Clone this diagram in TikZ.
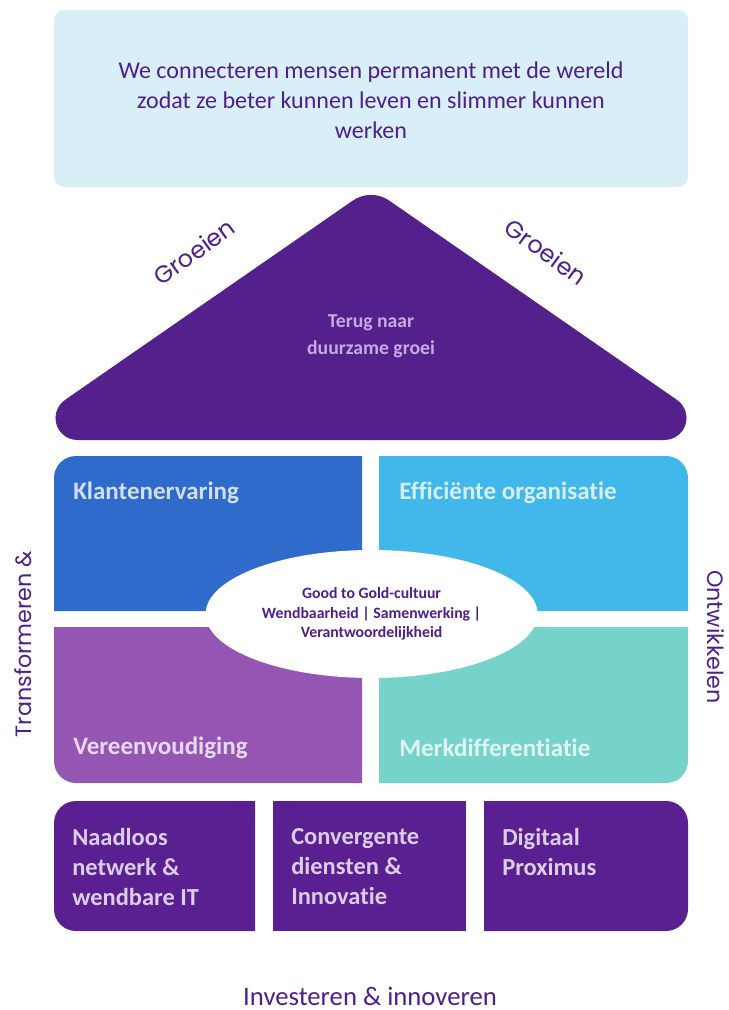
\documentclass[tikz,border=0pt]{standalone}
\usepackage{fontspec}
\setmainfont{Carlito}[Ligatures=NoCommon]
\newfontfamily\zijfont{Poppins}
\usetikzlibrary{shapes.geometric}
\definecolor{missiebox}{HTML}{D9EFF8}
\definecolor{paars}{HTML}{4E1F8A}
\definecolor{dak}{HTML}{54218C}
\definecolor{dakletter}{HTML}{C7A9E4}
\definecolor{klant}{HTML}{2F6BCB}
\definecolor{effic}{HTML}{42B7EA}
\definecolor{vereen}{HTML}{9455B3}
\definecolor{merk}{HTML}{76D3C9}
\definecolor{pijler}{HTML}{5A1F90}

\begin{document}
\begin{tikzpicture}[
  every node/.style={inner sep=0pt},
  missie/.style={font=\fontsize{17.1}{21.3}\selectfont, text=paars, align=center},
  groei/.style={font=\zijfont\fontsize{17}{20}\selectfont, text=paars},
  dakt/.style={font=\bfseries\fontsize{14}{19.2}\selectfont, text=dakletter, align=center},
  vlak/.style={font=\bfseries\fontsize{17.8}{20}\selectfont, text=white, text opacity=0.78, anchor=west},
  kern/.style={ellipse, fill=white, minimum width=8.3cm, minimum height=3.2cm,
    font=\bfseries\fontsize{11.2}{14}\selectfont, text=paars, align=center},
  pijlert/.style={font=\bfseries\fontsize{17.4}{21.3}\selectfont, text=white, text opacity=0.78,
    align=left, anchor=west},
  zij/.style={font=\zijfont\fontsize{15.8}{18}\selectfont, text=paars},
  basis/.style={font=\fontsize{19}{22}\selectfont, text=paars}
]
\useasboundingbox (0,0) rectangle (18.2,-25.25);

% missie bovenaan
\fill[missiebox, rounded corners=0.25cm] (1.35,-0.25) rectangle (17.2,-4.675);
\node[missie] (missie) at (9.275,-2.5) {We connecteren mensen permanent met de wereld\\zodat ze beter kunnen leven en slimmer kunnen\\werken};

% dak: driehoek met ronde hoeken
\fill[dak] (1.937,-11.0) arc[start angle=270, end angle=124.7, radius=0.55]
  -- (8.82,-5.015) arc[start angle=124.7, end angle=55.3, radius=0.8]
  -- (16.926,-9.998) arc[start angle=55.3, end angle=-90, radius=0.55] -- cycle;
\node[groei, rotate=36] (groeiL) at (4.85,-6.3) {Groeien};
\node[groei, rotate=-36] (groeiR) at (13.65,-6.3) {Groeien};
\node[dakt] (terug) at (9.275,-8.4) {Terug naar\\duurzame groei};

% vier kwadranten, alleen de buitenhoeken rond
\fill[klant] (9.05,-15.275) -- (1.35,-15.275) -- (1.35,-11.95)
  arc[start angle=180, end angle=90, radius=0.55] -- (9.05,-11.4) -- cycle;
\fill[effic] (9.475,-15.275) -- (9.475,-11.4) -- (16.65,-11.4)
  arc[start angle=90, end angle=0, radius=0.55] -- (17.2,-15.275) -- cycle;
\fill[vereen] (9.05,-15.675) -- (1.35,-15.675) -- (1.35,-19.025)
  arc[start angle=180, end angle=270, radius=0.55] -- (9.05,-19.575) -- cycle;
\fill[merk] (9.475,-15.675) -- (17.2,-15.675) -- (17.2,-19.025)
  arc[start angle=0, end angle=-90, radius=0.55] -- (9.475,-19.575) -- cycle;
\node[vlak] (klantenervaring) at (1.825,-12.325) {Klantenervaring};
\node[vlak] (efficient) at (9.975,-12.325) {Efficiënte organisatie};
\node[vlak] (vereenvoudiging) at (1.825,-18.7) {Vereenvoudiging};
\node[vlak] (merkdiff) at (9.975,-18.7) {Merkdifferentiatie};
\node[kern] (cultuur) at (9.29,-15.35) {Good to Gold-cultuur\\Wendbaarheid | Samenwerking |\\Verantwoordelijkheid};

% drie pijlers
\fill[pijler] (6.375,-20.025) -- (1.9,-20.025) arc[start angle=90, end angle=180, radius=0.55]
  -- (1.35,-22.725) arc[start angle=180, end angle=270, radius=0.55] -- (6.375,-23.275) -- cycle;
\fill[pijler] (6.825,-20.025) rectangle (11.65,-23.275);
\fill[pijler] (12.1,-20.025) -- (16.65,-20.025) arc[start angle=90, end angle=0, radius=0.55]
  -- (17.2,-22.725) arc[start angle=0, end angle=-90, radius=0.55] -- (12.1,-23.275) -- cycle;
\node[pijlert] (netwerk) at (1.8,-21.675) {Naadloos\\netwerk \&\\wendbare IT};
\node[pijlert] (diensten) at (7.275,-21.675) {Convergente\\diensten \&\\Innovatie};
\node[pijlert] (digitaal) at (12.55,-21.3) {Digitaal\\Proximus};

% randteksten
\node[zij, rotate=90] (transformeren) at (0.575,-16.1) {Transformeren \&};
\node[zij, rotate=-90] (ontwikkelen) at (17.9,-15.925) {Ontwikkelen};
\node[basis] (investeren) at (9.25,-24.92) {Investeren \& innoveren};
\end{tikzpicture}
\end{document}
